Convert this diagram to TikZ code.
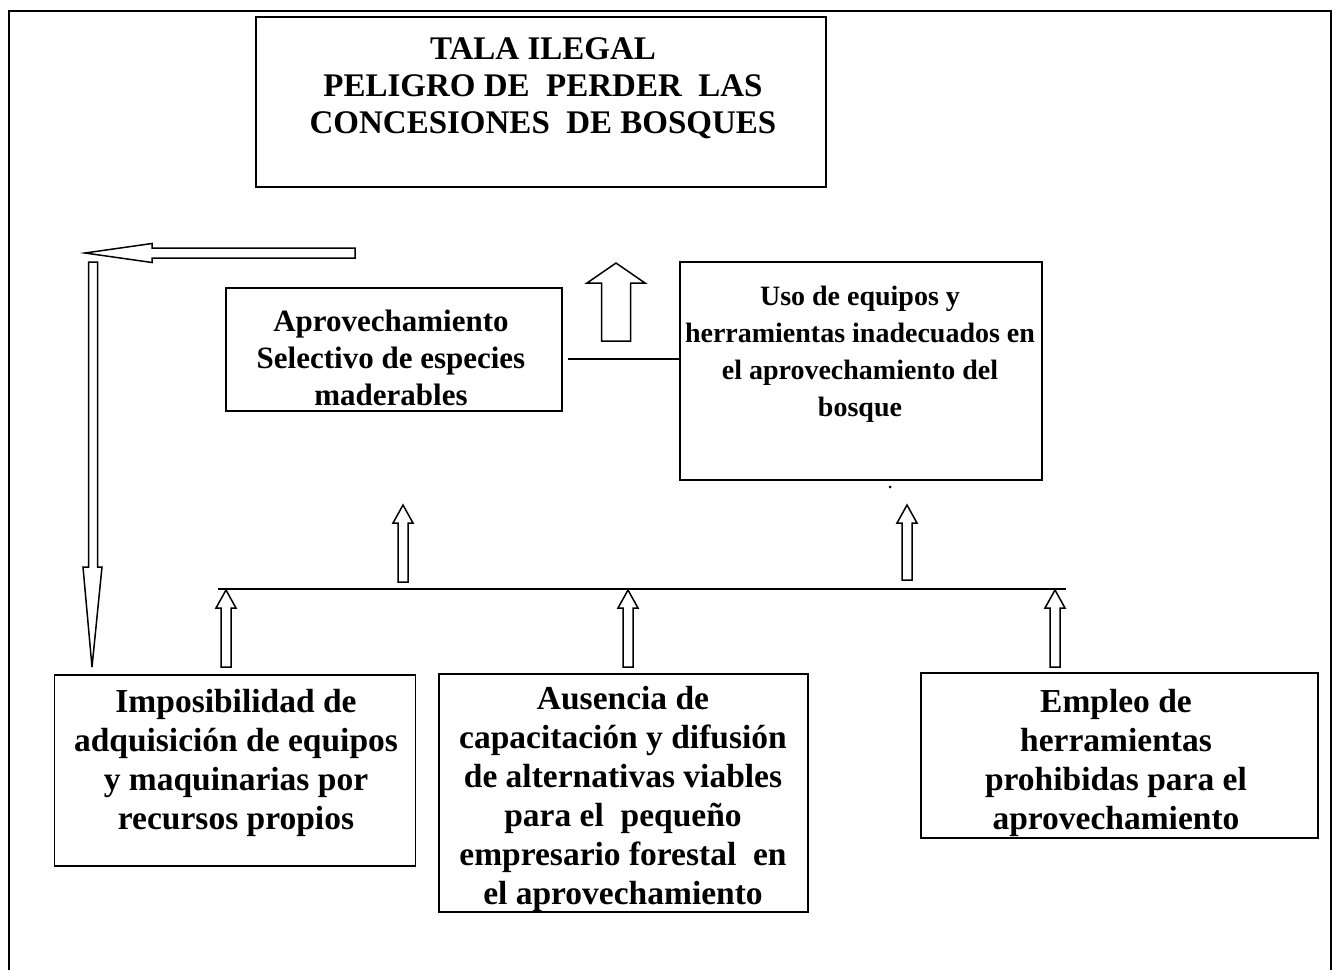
\documentclass[tikz,border=0pt]{standalone}
\usepackage{fontspec}
\setmainfont{Liberation Serif}
\usetikzlibrary{calc}
\tikzset{
  box/.style={draw, line width=1.6pt, inner sep=0pt},
  txt/.style={align=center, inner sep=0pt, font=\fontsize{31}{37}\selectfont\bfseries},
  usotxt/.style={align=center, inner sep=0pt, font=\fontsize{28}{37}\selectfont\bfseries},
  lowtxt/.style={align=center, inner sep=0pt, font=\fontsize{33.5}{39}\selectfont\bfseries},
  toptxt/.style={align=center, inner sep=0pt, font=\fontsize{33}{37}\selectfont\bfseries},
  arrowline/.style={draw, line width=1.5pt, line join=miter, fill=white},
  plain/.style={draw, line width=1.6pt},
}
% hollow up arrow: x, ytip, ybottom, head half width, shaft half width, head length
\newcommand{\hollowup}[6]{\draw[arrowline] ({#1-#5},{#3}) -- ({#1-#5},{#2+#6}) -- ({#1-#4},{#2+#6}) -- (#1,#2) -- ({#1+#4},{#2+#6}) -- ({#1+#5},{#2+#6}) -- ({#1+#5},{#3}) -- cycle;}
\begin{document}
\begin{tikzpicture}[x=1pt,y=-1pt]
\useasboundingbox (0,0) rectangle (1339,970);
% outer frame
\draw[plain] (9,970) -- (9,11) -- (1331,11) -- (1331,970);

% boxes
\node[box, minimum width=570pt, minimum height=170pt] (top) at (541,102) {};
\node[box, minimum width=336pt, minimum height=123pt] (aprov) at (394,349.5) {};
\node[box, minimum width=362pt, minimum height=218pt] (uso) at (861,371) {};
\node[box, minimum width=361pt, minimum height=191pt] (imp) at (235,770.5) {};
\node[box, minimum width=369pt, minimum height=238pt] (aus) at (623.5,793) {};
\node[box, minimum width=397pt, minimum height=165pt] (emp) at (1119.5,755.5) {};

% texts
\node[toptxt] (ttop) at (543,88) {TALA ILEGAL\\PELIGRO DE\ \ PERDER\ \ LAS\\CONCESIONES\ \ DE BOSQUES};
\node[txt] (taprov) at (391,358) {Aprovechamiento\\Selectivo de especies\\maderables};
\node[usotxt] (tuso) at (860,354) {Uso de equipos y\\herramientas inadecuados en\\el aprovechamiento del\\bosque};
\node[lowtxt] (timp) at (236,763) {Imposibilidad de\\adquisición de equipos\\y maquinarias por\\recursos propios};
\node[lowtxt] (taus) at (623,799) {Ausencia de\\capacitación y difusión\\de alternativas viables\\para el\ \ pequeño\\empresario forestal\ \ en\\el aprovechamiento};
\node[lowtxt] (temp) at (1116,763) {Empleo de\\herramientas\\prohibidas para el\\aprovechamiento};

% line between the two upper boxes
\coordinate (hline) at (0,359);
\draw[plain] ([xshift=5pt]aprov.east |- hline) -- (uso.west |- hline);

% bus line
\coordinate (busL) at (218,589);
\coordinate (busR) at (1066,589);
\draw[plain] (busL) -- (busR);

% hollow arrows
\hollowup{616}{263}{341}{29}{14.5}{20}
\hollowup{403}{505}{582}{10}{5}{18}
\hollowup{907}{505}{580}{10}{5}{18}
\hollowup{226}{590}{667}{10}{5}{18}
\hollowup{628}{590}{667}{10}{5}{18}
\hollowup{1055}{590}{667}{10}{5}{18}

% big left arrow
\coordinate (ltail) at (355,253);
\coordinate (ltip) at (85,253);
\draw[arrowline] (355,248) -- (152,248) -- (152,243.5) -- (ltip) -- (152,262.5) -- (152,258) -- (355,258) -- cycle;

% long down arrow
\coordinate (dtop) at (93,262);
\coordinate (dtip) at (92,667);
\draw[arrowline] (88.5,262) -- (88.5,567) -- (83,567) -- (dtip) -- (102,567) -- (97.5,567) -- (97.5,262) -- cycle;

% stray dot
\fill (890,487) circle (1.5pt);
\end{tikzpicture}
\end{document}
